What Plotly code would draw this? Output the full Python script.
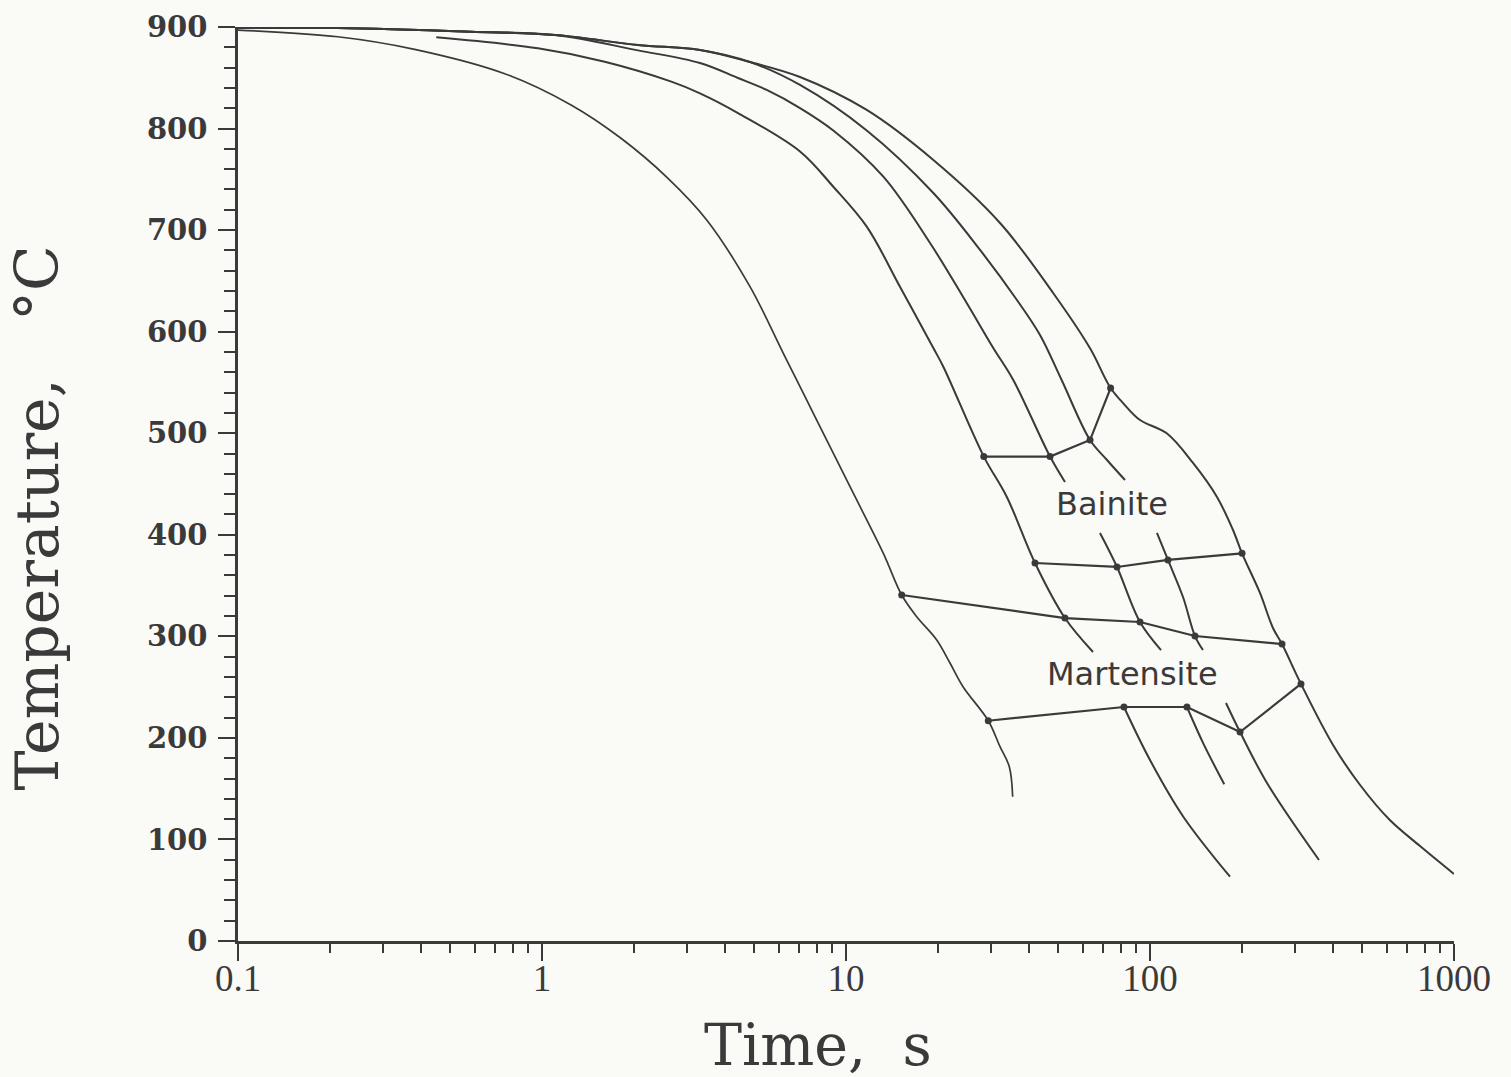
import math
import plotly.graph_objects as go

# ---- cooling curves: time (s) vs temperature (deg C); None = break behind a label ----
c1_time = [0.1, 0.213, 0.381, 0.754, 1.246, 1.819, 2.597, 3.482, 4.833, 6.22, 8.01, 10.31,
           13.27, 15.25, 17.09, 19.88, 21.98, 24.26, 29.38, 32.11, 34.45, 35.34]
c1_temp = [897, 890.4, 878.0, 854.0, 823.2, 790.4, 751.0, 710.0, 644.3, 578.7, 513.0, 447.3,
           381.7, 340.7, 319.3, 296.4, 273.7, 250.4, 216.9, 191.3, 171.6, 142.1]

c2_time = [0.449, 0.970, 1.608, 2.664, 3.309, 4.413, 7.059, 9.083, 11.70, 15.05, 19.38,
           20.90, 28.4, 33.78, 41.85, 52.5, 64.94, None, 82.1, 100.0, 128.7, 183.3]
c2_temp = [889.8, 879.0, 865.8, 846.2, 834.7, 815.3, 777.5, 742.7, 703.4, 644.3, 583.9,
           565.5, 477.0, 437.5, 372.2, 318.0, 284.6, None, 230.4, 178.2, 122.4, 63.3]

c3_time = [0.1, 0.213, 0.584, 1.104, 2.069, 3.309, 4.413, 5.485, 7.059, 9.083, 13.27, 18.9,
           24.95, 30.51, 35.5, 46.9, 52.52, None, 68.47, 77.9, 92.7, 108.7, None, 132.3,
           149.7, 175.5]
c3_temp = [899, 899, 895.4, 892.1, 877.0, 864.5, 849.8, 838.0, 820.2, 798.1, 752.6, 687.3,
           628.2, 583.9, 552.4, 477.0, 452.0, None, 401.8, 368.3, 314.1, 286.5, None, 230.4,
           194.6, 154.3]

c4_time = [0.1, 0.213, 0.584, 1.104, 2.069, 3.309, 4.833, 7.059, 11.70, 19.38, 27.6, 36.5,
           43.47, 51.2, 63.5, 72.21, 82.75, None, 105.4, 114.6, 128.4, 140.6, 149.4, None,
           177.8, 197.8, 242.6, 359.6]
c4_temp = [899, 899, 895.4, 892.1, 882.3, 877.4, 865.5, 842.9, 798.1, 736.5, 680.5, 631.2,
           596.7, 552.4, 493.3, 473.6, 453.9, None, 401.8, 375.2, 338.7, 300.3, 286.5, None,
           234.4, 205.8, 155.6, 79.8]

c5_time = [0.1, 0.213, 0.584, 1.104, 2.069, 3.309, 4.833, 7.059, 11.70, 19.38, 32.11, 48.08,
           63.5, 74.2, 81.7, 92.7, 113.5, 138.5, 166.1, 187.5, 200.8, 230.0, 253.8, 271.8,
           313.8, 400.0, 491.0, 615.0, 773.0, 1000.0]
c5_temp = [899, 899, 895.4, 892.1, 882.3, 877.4, 865.5, 850.8, 818.3, 769.0, 707.0, 637.8,
           583.6, 544.5, 529.4, 513.0, 499.9, 470.7, 437.2, 404.7, 381.7, 342.7, 308.2, 292.4,
           253.1, 193.0, 153.6, 119.1, 93.5, 66.0]

# ---- transformation lines joining the points on each cooling curve ----
bainite_start_time = [28.4, 46.9, 63.5, 74.2]
bainite_start_temp = [477.0, 477.0, 493.3, 544.5]

bainite_lower_time = [41.85, 77.9, 114.6, 200.8]
bainite_lower_temp = [372.2, 368.3, 375.2, 381.7]

mart_start_time = [15.25, 52.5, 92.7, 140.6, 271.8]
mart_start_temp = [340.7, 318.0, 314.1, 300.3, 292.4]

mart_lower_time = [29.38, 82.1, 132.3, 197.8, 313.8]
mart_lower_temp = [216.9, 230.4, 230.4, 205.8, 253.1]

# ---- region labels ----
region_names = ["Bainite", "Martensite"]
region_time = [74.8, 87.5]
region_temp = [430, 263]

# ---- axis ticks ----
x_tick_vals = [0.1, 1, 10, 100, 1000]
x_tick_text = ["0.1", "1", "10", "100", "1000"]
y_tick_vals = [0, 100, 200, 300, 400, 500, 600, 700, 800, 900]

INK = "#3b3939"
BG = "#fafaf7"

fig = go.Figure()

curves = [(c1_time, c1_temp, 1.7), (c2_time, c2_temp, 2.0), (c3_time, c3_temp, 2.0),
          (c4_time, c4_temp, 2.0), (c5_time, c5_temp, 2.0)]
for t, temp, w in curves:
    fig.add_trace(go.Scatter(
        x=t, y=temp, mode="lines",
        line=dict(color=INK, width=w, shape="spline", smoothing=1.0),
        connectgaps=False, hoverinfo="skip", showlegend=False))

for t, temp in [(bainite_start_time, bainite_start_temp),
                (bainite_lower_time, bainite_lower_temp),
                (mart_start_time, mart_start_temp),
                (mart_lower_time, mart_lower_temp)]:
    fig.add_trace(go.Scatter(
        x=t, y=temp, mode="lines+markers",
        line=dict(color=INK, width=2.2),
        marker=dict(color=INK, size=7),
        hoverinfo="skip", showlegend=False))

for name, t, temp in zip(region_names, region_time, region_temp):
    fig.add_annotation(
        x=math.log10(t), y=temp, xref="x", yref="y", text=name, showarrow=False,
        font=dict(family="DejaVu Sans", size=32, color=INK),
        xanchor="center", yanchor="middle")

# axis titles
fig.add_annotation(
    x=0.477, y=-0.1138, xref="paper", yref="paper", text="Time,\u00a0\u00a0s",
    showarrow=False, font=dict(family="DejaVu Serif", size=57, color=INK),
    xanchor="center", yanchor="middle")
fig.add_annotation(
    x=-0.1653, y=0.4634, xref="paper", yref="paper",
    text="Temperature,\u00a0\u00a0\u00a0°C", textangle=-90,
    showarrow=False, font=dict(family="DejaVu Serif", size=60, color=INK),
    xanchor="center", yanchor="middle")

fig.update_xaxes(
    type="log", range=[-1, 3],
    tickmode="array", tickvals=x_tick_vals, ticktext=x_tick_text,
    ticks="outside", ticklen=17, tickwidth=2, tickcolor=INK,
    minor=dict(ticks="outside", ticklen=9, tickwidth=2, tickcolor=INK, dtick="D1",
               showgrid=False),
    showline=True, linecolor=INK, linewidth=2.5,
    showgrid=False, zeroline=False, ticklabelstandoff=-14,
    tickfont=dict(family="Liberation Serif", size=37, color=INK))

fig.update_yaxes(
    range=[0, 900],
    tickmode="array", tickvals=y_tick_vals,
    ticks="outside", ticklen=17, tickwidth=2, tickcolor=INK,
    minor=dict(ticks="outside", ticklen=11, tickwidth=2, tickcolor=INK, dtick=20,
               showgrid=False),
    showline=True, linecolor=INK, linewidth=2.5,
    showgrid=False, zeroline=False, ticklabelstandoff=5,
    tickfont=dict(family="DejaVu Serif", size=29, color=INK, weight="bold"))

fig.update_layout(
    width=1511, height=1077,
    margin=dict(l=238, r=57, t=27, b=136, autoexpand=False),
    paper_bgcolor=BG, plot_bgcolor=BG,
    showlegend=False)

fig.write_html("out.html")
